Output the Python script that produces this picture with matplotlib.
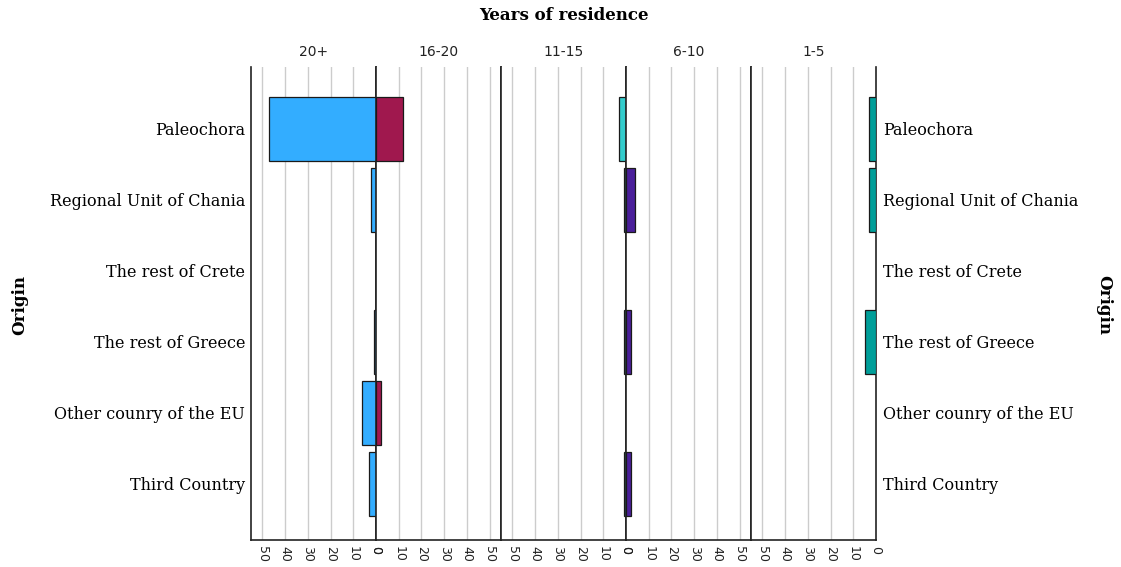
import matplotlib
matplotlib.use("Agg")
import matplotlib.pyplot as plt
import numpy as np

# Origin categories (top to bottom) and residence groups (left to right)
ORIGINS = [
    "Paleochora",
    "Regional Unit of Chania",
    "The rest of Crete",
    "The rest of Greece",
    "Other counry of the EU",
    "Third Country",
]
GROUPS = ["20+", "16-20", "11-15", "6-10", "1-5"]

# Counts per origin for each residence group
count_20plus = [47, 2, 0, 1, 6, 3]
count_16_20 = [12, 0, 0, 0, 2, 0]
count_11_15 = [3, 1, 0, 1, 0, 1]
count_6_10 = [0, 4, 0, 2, 0, 2]
count_1_5 = [3, 3, 0, 5, 0, 0]

TICKS = [0, 10, 20, 30, 40, 50]

COUNTS = [count_20plus, count_16_20, count_11_15, count_6_10, count_1_5]
COLORS = ["#33ADFF", "#A0184E", "#33CCCC", "#4A1F9A", "#009E99"]
REVERSED = [True, False, True, False, True]

SERIF = "DejaVu Serif"
SANS = "DejaVu Sans"
XMAX = 55

fig = plt.figure(figsize=(11.21, 5.67), dpi=100)
left, right = 251 / 1121, 876 / 1121
top, bottom = 1 - 67 / 567, 1 - 540 / 567
pw = (right - left) / len(GROUPS)

y = np.arange(len(ORIGINS))
axes = []
for i, (grp, vals, col, rev) in enumerate(zip(GROUPS, COUNTS, COLORS, REVERSED)):
    ax = fig.add_axes([left + i * pw, bottom, pw, top - bottom])
    axes.append(ax)
    vals = np.array(vals, dtype=float)
    keep = vals > 0
    ax.barh(y[keep], vals[keep], height=0.9, color=col,
            edgecolor="#1a1a1a", linewidth=0.9, zorder=3)
    ax.set_xlim((XMAX, 0) if rev else (0, XMAX))
    ax.set_ylim(5.79, -0.87)
    ax.set_xticks(TICKS)
    ax.set_xticklabels([str(t) for t in TICKS], rotation=270,
                       fontsize=9, family=SANS)
    ax.tick_params(axis="x", length=0, pad=4, colors="#222222")
    ax.set_yticks([])
    for t in TICKS[1:]:
        ax.axvline(t, color="#CCCCCC", linewidth=1.0, zorder=1)
    ax.spines["top"].set_visible(False)
    for s in ("left", "right", "bottom"):
        ax.spines[s].set_color("#222222")
        ax.spines[s].set_linewidth(1.2)
    ax.set_title(grp, fontsize=10, family=SANS, pad=8, color="#222222")

# Origin labels on both outer sides
for yi, name in zip(y, ORIGINS):
    axes[0].text(-0.045, yi + 0.02, name, transform=axes[0].get_yaxis_transform(),
                 ha="right", va="center", fontsize=11.5, family=SERIF)
    axes[-1].text(1.055, yi + 0.02, name, transform=axes[-1].get_yaxis_transform(),
                  ha="left", va="center", fontsize=11.5, family=SERIF)

fig.text((left + right) / 2, 1 - 15 / 567, "Years of residence",
         ha="center", va="center", fontsize=12, fontweight="bold", family=SERIF)
fig.text(20 / 1121, 1 - 305 / 567, "Origin", rotation=90,
         ha="center", va="center", fontsize=12, fontweight="bold", family=SERIF)
fig.text(1104 / 1121, 1 - 305 / 567, "Origin", rotation=270,
         ha="center", va="center", fontsize=12, fontweight="bold", family=SERIF)

fig.savefig("out.png", dpi=100, facecolor="white")
